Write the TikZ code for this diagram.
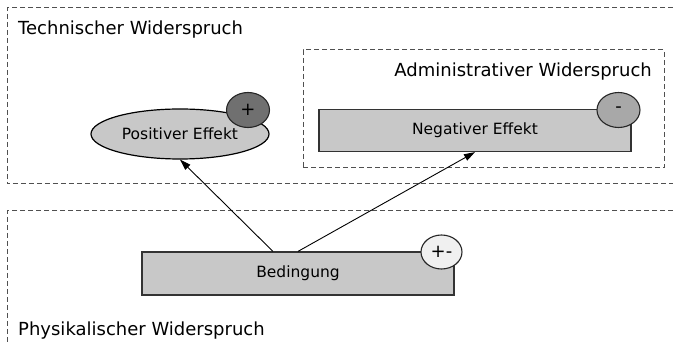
\documentclass[tikz,border=0pt]{standalone}
\usepackage{fontspec}
\setmainfont{DejaVu Sans}
\usepackage{tikz}
\usetikzlibrary{positioning}
\usetikzlibrary{calc}
\usetikzlibrary{arrows.meta,shapes.geometric}

\definecolor{boxgray}{HTML}{C8C8C8}
\definecolor{minusgray}{HTML}{A8A8A8}
\definecolor{plusgray}{HTML}{707070}
\definecolor{pmgray}{HTML}{F0F0F0}
\definecolor{dashgray}{HTML}{505050}

\begin{document}
\begin{tikzpicture}[
    x=1pt, y=-1pt,
    gruppe/.style={draw=dashgray, dashed, dash pattern=on 5pt off 3pt, line width=1pt},
    titel/.style={inner sep=0pt, font=\fontsize{18}{22}\selectfont},
    effekt/.style={draw=black!80, fill=boxgray, line width=1.2pt, minimum width=312pt, minimum height=42pt, inner sep=0pt, font=\fontsize{15.5}{18}\selectfont},
    zeichen/.style={ellipse, draw=black!85, line width=1.1pt, minimum width=43pt, minimum height=35pt, inner sep=0pt, font=\fontsize{18}{20}\selectfont},
    pfeil/.style={-{Triangle[length=11pt,width=7pt]}, line width=0.9pt}
]
\useasboundingbox (0,0) rectangle (673,344);

% Technischer Widerspruch (open to the right)
\draw[gruppe] (673,8) -| (7,184) -- (673,184);
\node[titel, anchor=base west] (techtitel) at (18,35) {Technischer Widerspruch};

% Administrativer Widerspruch
\node[gruppe, minimum width=361pt, minimum height=118pt, inner sep=0pt] (admin) at (483.5,109) {};
\node[titel, anchor=base east] (admintitel) at (652,77) {Administrativer Widerspruch};

% Physikalischer Widerspruch (open to the right and bottom)
\draw[gruppe] (673,211) -| (7,344);
\node[titel, anchor=base west] (phystitel) at (18,336) {Physikalischer Widerspruch};

% Effekte
\node[effekt, ellipse, draw=black, minimum width=178pt, minimum height=50pt] (pos) at (180,134) {Positiver Effekt};
\node[zeichen, fill=plusgray] (plus) at (248,110) {+};

\node[effekt] (neg) at (475,130.5) {Negativer Effekt};
\node[zeichen, fill=minusgray] (minus) at (618.5,110) {-};

% Bedingung
\node[effekt, minimum height=43pt] (bed) at (298,273.5) {Bedingung};
\node[zeichen, fill=pmgray, minimum width=41pt, minimum height=34pt] (pm) at (441.5,252) {+-};

% Pfeile
\draw[pfeil] ($(bed.north west)!0.42!(bed.north east)$) -- (pos.south);
\draw[pfeil] (bed.north) -- (neg.south);

\end{tikzpicture}
\end{document}
